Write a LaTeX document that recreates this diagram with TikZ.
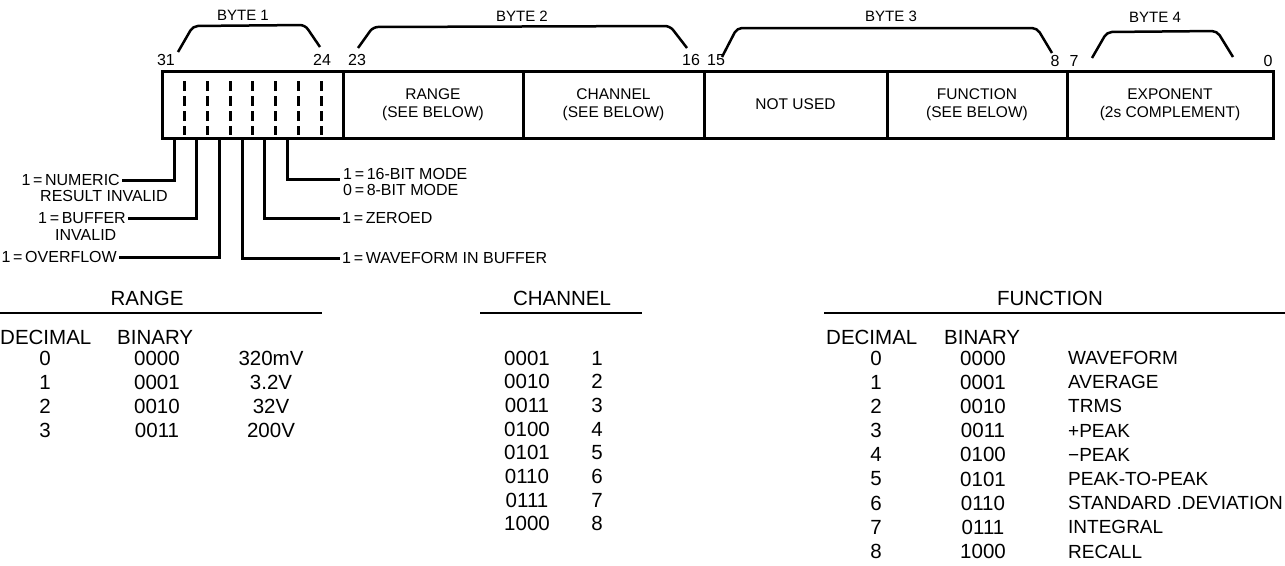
\documentclass[tikz,border=0pt]{standalone}
\usepackage{fontspec}
\setmainfont{Liberation Sans}
\begin{document}
\begin{tikzpicture}[x=1pt,y=-1pt,
  cell/.style={draw,line width=3pt,inner sep=0pt,minimum height=67pt,align=center,font=\fontsize{15.5}{18}\selectfont},
  num/.style={inner sep=0pt,font=\fontsize{16}{17}\selectfont},
  bytelbl/.style={inner sep=0pt,font=\fontsize{15}{17}\selectfont},
  brace/.style={line width=2.5pt,rounded corners=5pt},
  dashline/.style={line width=3pt,dash pattern=on 10pt off 5pt},
  lead/.style={line width=3pt},
  lbl/.style={inner sep=2pt,font=\fontsize{16}{17}\selectfont},
  tbl/.style={inner sep=0pt,font=\fontsize{20.5}{22}\selectfont},
  tname/.style={inner sep=0pt,font=\fontsize{19}{22}\selectfont},
  rule/.style={line width=1.5pt}]
\useasboundingbox (0,0) rectangle (1285,565);

% register cells
\node[cell,minimum width=181pt] (c1) at (252.5,104.5) {};
\node[cell,minimum width=180pt] (c2) at (433,104.5) {RANGE\\(SEE BELOW)};
\node[cell,minimum width=181pt] (c3) at (613.5,104.5) {CHANNEL\\(SEE BELOW)};
\node[cell,minimum width=183pt] (c4) at (795.5,104.5) {NOT USED};
\node[cell,minimum width=180pt] (c5) at (977,104.5) {FUNCTION\\(SEE BELOW)};
\node[cell,minimum width=206pt] (c6) at (1170,104.5) {EXPONENT\\(2s COMPLEMENT)};

% bit separators in byte 1
\foreach \x in {184,207,230,252,275,298,321}
  \draw[dashline] (\x,81) -- (\x,135);

% bit numbers
\node[num] (n31) at (166,60) {31};
\node[num] (n24) at (322,60) {24};
\node[num] (n23) at (357,60) {23};
\node[num] (n16) at (691,60) {16};
\node[num] (n15) at (716,60) {15};
\node[num] (n8) at (1055,61) {8};
\node[num] (n7) at (1074,61) {7};
\node[num] (n0) at (1268,61) {0};

% byte brackets
\draw[brace] (178,52) -- (193,26) -- (305,25) -- (320,47);
\draw[brace] (358,48) -- (373,27) -- (670,26) -- (687,48);
\draw[brace] (722,57) -- (737,28) -- (1037,28) -- (1052,53);
\draw[brace] (1092,58) -- (1107,32) -- (1217,31) -- (1233,57);
\node[bytelbl] (by1) at (243,15) {BYTE 1};
\node[bytelbl] (by2) at (522,16) {BYTE 2};
\node[bytelbl] (by3) at (891,16) {BYTE 3};
\node[bytelbl] (by4) at (1155,17) {BYTE 4};

% status bit leaders
\coordinate (b1) at (174,138);
\coordinate (b2) at (196,138);
\coordinate (b3) at (219,138);
\coordinate (b4) at (242,138);
\coordinate (b5) at (264,138);
\coordinate (b6) at (287,138);
\node[lbl,anchor=east] (l1) at (122,180) {1\,=\,NUMERIC};
\node[lbl,anchor=west,inner sep=0pt] (l1b) at (40,196) {RESULT INVALID};
\node[lbl,anchor=east] (l2) at (128,218) {1\,=\,BUFFER};
\node[lbl,anchor=west,inner sep=0pt] (l2b) at (55,235) {INVALID};
\node[lbl,anchor=east] (l3) at (119,257) {1\,=\,OVERFLOW};
\node[lbl,anchor=west] (l4) at (340,258) {1\,=\,WAVEFORM IN BUFFER};
\node[lbl,anchor=west] (l5) at (340,218) {1\,=\,ZEROED};
\node[lbl,anchor=west] (l6) at (341,174) {1\,=\,16-BIT MODE};
\node[lbl,anchor=west] (l6b) at (341,190) {0\,=\,8-BIT MODE};
\coordinate (e6) at (340,179);
\draw[lead] (b1) |- (l1.east);
\draw[lead] (b2) |- (l2.east);
\draw[lead] (b3) |- (l3.east);
\draw[lead] (b4) |- (l4.west);
\draw[lead] (b5) |- (l5.west);
\draw[lead] (b6) |- (e6);

% RANGE table
\node[tbl] (tr) at (147,298) {RANGE};
\coordinate (tra) at (0,313);
\coordinate (trb) at (322,313);
\draw[rule] (tra) -- (trb);
\node[tbl,anchor=west] (rdh) at (0,337) {DECIMAL};
\node[tbl,anchor=west] (rbh) at (117,337) {BINARY};
\foreach \d/\b/\v [count=\k from 0] in {0/0000/320mV,1/0001/3.2V,2/0010/32V,3/0011/200V} {
  \node[tbl] (rd\k) at (45,{358+24*\k}) {\d};
  \node[tbl] (rb\k) at (157,{358+24*\k}) {\b};
  \node[tbl] (rv\k) at (271,{358+24*\k}) {\v};
}

% CHANNEL table
\node[tbl] (tc) at (562,298) {CHANNEL};
\coordinate (tca) at (480,313);
\coordinate (tcb) at (642,313);
\draw[rule] (tca) -- (tcb);
\foreach \b/\v [count=\k from 0] in {0001/1,0010/2,0011/3,0100/4,0101/5,0110/6,0111/7,1000/8} {
  \node[tbl] (cb\k) at (527,{358+23.7*\k}) {\b};
  \node[tbl] (cv\k) at (597,{358+23.7*\k}) {\v};
}

% FUNCTION table
\node[tbl] (tf) at (1050,298) {FUNCTION};
\coordinate (tfa) at (824,313);
\coordinate (tfb) at (1285,313);
\draw[rule] (tfa) -- (tfb);
\node[tbl,anchor=west] (fdh) at (826,337) {DECIMAL};
\node[tbl,anchor=west] (fbh) at (944,337) {BINARY};
\foreach \d/\b/\v [count=\k from 0] in {0/0000/WAVEFORM,1/0001/AVERAGE,2/0010/TRMS,3/0011/+PEAK,4/0100/−PEAK,5/0101/PEAK-TO-PEAK,6/0110/STANDARD .DEVIATION,7/0111/INTEGRAL,8/1000/RECALL} {
  \node[tbl] (fd\k) at (876,{358+24.2*\k}) {\d};
  \node[tbl] (fb\k) at (983,{358+24.2*\k}) {\b};
  \node[tname,anchor=west] (fv\k) at (1068,{358+24.2*\k}) {\v};
}
\end{tikzpicture}
\end{document}
